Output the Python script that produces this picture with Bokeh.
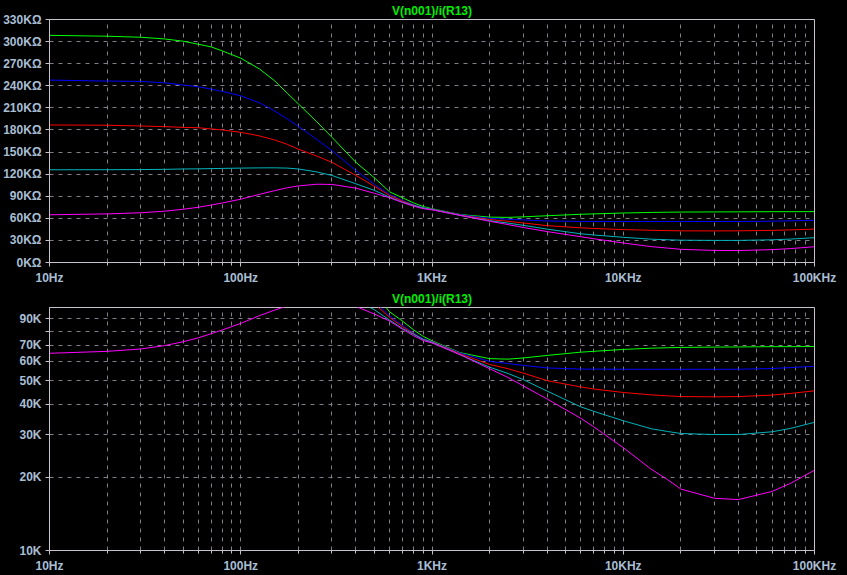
from bokeh.plotting import figure
from bokeh.layouts import column
from bokeh.models import FixedTicker, Range1d, GlobalInlineStyleSheet
from bokeh.embed import file_html
from bokeh.resources import INLINE

# ---- data (impedance in kOhm vs frequency in Hz) ----
freq = [10, 20, 30, 40, 50, 60, 70, 80, 100, 125, 150, 175, 200, 250, 300, 400, 500, 600,
        700, 800, 900, 1000, 1400, 2000, 2500, 3000, 4000, 6000, 7000, 10000, 14000, 17000,
        20000, 30000, 40000, 60000, 75000, 100000]

z_green = [308.5, 307.3, 305.9, 303.6, 300.5, 296.4, 292.8, 287.4, 277.5, 263.0, 247.0, 230.0,
           215.5, 191.0, 170.0, 136.0, 115.0, 96.0, 88.0, 81.0, 76.0, 73.0, 65.2,
           61.6, 61.3, 62.0, 63.5, 65.5, 66.0, 67.2, 68.0, 68.3, 68.5, 68.7, 68.8, 69.0, 69.0, 69.1]
z_blue = [247.7, 246.4, 245.9, 244.0, 241.0, 238.6, 235.5, 232.3, 226.4, 217.0, 206.0, 195.0,
          185.0, 167.0, 152.0, 125.0, 106.0, 92.4, 84.3, 78.5, 74.4, 72.5, 65.0,
          60.0, 58.8, 57.8, 56.4, 55.8, 55.8, 55.7, 55.7, 55.7, 55.7, 55.7, 55.7, 56.1, 56.6, 57.3]
z_red = [186.8, 186.4, 185.4, 184.5, 183.5, 183.0, 181.4, 180.0, 176.8, 172.0, 166.5, 160.5,
         154.0, 144.5, 136.0, 118.2, 103.5, 91.0, 83.4, 78.0, 73.9, 72.3, 64.5,
         58.3, 56.0, 53.7, 50.0, 47.1, 46.2, 44.7, 43.7, 43.3, 43.0, 42.9, 43.0, 43.6, 44.3, 45.4]
z_cyan = [125.9, 126.0, 126.2, 126.5, 127.0, 127.2, 127.5, 127.8, 128.2, 128.5, 128.6, 128.2,
          127.0, 123.0, 118.2, 106.9, 97.9, 88.8, 82.0, 77.6, 73.9, 72.0, 64.0,
          56.8, 53.5, 50.5, 45.3, 39.0, 37.4, 34.2, 31.7, 30.9, 30.3, 30.0, 30.0, 30.8, 31.8, 33.7]
z_magenta = [64.8, 66.0, 67.5, 69.7, 72.3, 75.0, 78.0, 80.8, 86.0, 92.5, 97.5, 101.5,
             104.0, 106.3, 106.0, 101.0, 94.0, 88.0, 81.5, 76.6, 73.1, 71.5, 64.0,
             56.0, 51.5, 47.6, 42.0, 35.0, 32.3, 26.5, 21.6, 19.6, 17.9, 16.4, 16.2, 17.5, 18.9, 21.4]

series_colors = ["#00ff00", "#0000ff", "#ff0000", "#00b4bc", "#ff00ff"]
series = [z_green, z_blue, z_red, z_cyan, z_magenta]

x_major = [10, 100, 1000, 10000, 100000]
x_labels = ["10Hz", "100Hz", "1KHz", "10KHz", "100KHz"]
x_minor = [m * d for d in [10, 100, 1000, 10000] for m in range(2, 10)]

top_ticks = [0, 30, 60, 90, 120, 150, 180, 210, 240, 270, 300, 330]
top_labels = ["0KΩ", "30KΩ", "60KΩ", "90KΩ", "120KΩ", "150KΩ", "180KΩ",
              "210KΩ", "240KΩ", "270KΩ", "300KΩ", "330KΩ"]
bot_ticks = [10, 20, 30, 40, 50, 60, 70, 80, 90]
bot_labels = ["10K", "20K", "30K", "40K", "50K", "60K", "70K", "", "90K"]

title_text = "V(n001)/i(R13)"

FRAME = "#c8c0cc"
GRID = "#857d8a"
LABEL = "#a8bed4"
FONT = "Liberation Sans"


def make_fig(height, y_type, y_range, yt, yl, top, bottom, left):
    p = figure(width=847, height=height, x_axis_type="log", y_axis_type=y_type,
               x_range=Range1d(10, 100000), y_range=y_range,
               output_backend="svg", toolbar_location=None,
               background_fill_color="black", border_fill_color="black",
               outline_line_color=FRAME, outline_line_width=1,
               min_border_left=left, min_border_right=33,
               min_border_top=top, min_border_bottom=bottom)
    p.title.text = title_text
    p.title.align = "center"
    p.title.text_color = "#00ee00"
    p.title.text_font = FONT
    p.title.text_font_style = "bold"
    p.title.text_font_size = "12px"
    p.title.standoff = 3
    p.title.offset = 0

    xt = FixedTicker(ticks=x_major, minor_ticks=x_minor)
    p.xaxis.ticker = xt
    p.xgrid.ticker = xt
    p.xaxis.major_label_overrides = dict(zip(x_major, x_labels))
    ytk = FixedTicker(ticks=yt, minor_ticks=[])
    p.yaxis.ticker = ytk
    p.ygrid.ticker = ytk
    p.yaxis.major_label_overrides = dict(zip(yt, yl))

    for ax in (p.xaxis, p.yaxis):
        ax.axis_line_color = FRAME
        ax.major_tick_line_color = FRAME
        ax.minor_tick_line_color = FRAME
        ax.major_tick_in = 0
        ax.minor_tick_in = 0
        ax.major_label_text_color = LABEL
        ax.major_label_text_font = FONT
        ax.major_label_text_font_style = "bold"
        ax.major_label_text_font_size = "12px"
    p.xaxis.major_tick_out = 4
    p.xaxis.minor_tick_out = 3
    p.xaxis.major_label_standoff = 4
    p.yaxis.major_tick_out = 4
    p.yaxis.minor_tick_out = 0
    p.yaxis.minor_tick_line_color = None
    p.yaxis.major_label_standoff = 4

    p.xgrid.grid_line_color = GRID
    p.xgrid.grid_line_dash = "4 5"
    p.xgrid.minor_grid_line_color = GRID
    p.xgrid.minor_grid_line_dash = "4 5"
    p.ygrid.grid_line_color = GRID
    p.ygrid.grid_line_dash = "4 5"

    for vals, col in zip(series, series_colors):
        p.line(freq, vals, line_color=col, line_width=1)
    return p


p1 = make_fig(288, "linear", Range1d(0, 330), top_ticks, top_labels, 19, 26, 48)
p2 = make_fig(287, "log", Range1d(10, 100), bot_ticks, bot_labels, 18, 24, 38)

layout = column(p1, p2, spacing=0,
                stylesheets=[GlobalInlineStyleSheet(css="html, body { background-color: #000000; }")])

open("out.html", "w").write(file_html(layout, INLINE))
